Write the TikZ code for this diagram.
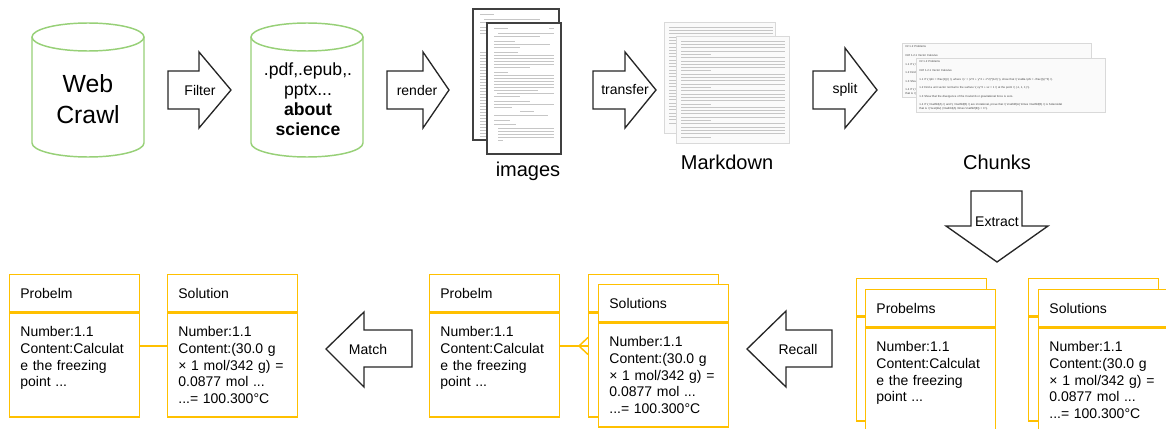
\documentclass[tikz,border=0pt]{standalone}
\usepackage{fontspec}
\setmainfont{Liberation Sans}
\usetikzlibrary{positioning, calc}
\usetikzlibrary{arrows.meta}
\definecolor{cylgreen}{RGB}{151,208,119}
\definecolor{cardyellow}{RGB}{255,192,0}
\newcommand{\mdbs}{\textbackslash{}}
\newcommand{\mdcaret}{\textasciicircum{}}
\tikzstyle{cylinderline}=[draw=cylgreen, line width=1.1pt, fill=white]
\tikzstyle{blockarrow}=[draw=black!85, line width=1pt, fill=white, line join=miter]
\tikzstyle{steplabel}=[font=\fontsize{10.5}{12}\selectfont, inner sep=1pt]
\tikzstyle{caption}=[font=\fontsize{15}{18}\selectfont]
\tikzstyle{pagebox}=[draw=black!75, line width=0.8pt, fill=white]
\tikzstyle{mdbox}=[draw=gray!30, line width=0.5pt, fill=gray!4]
\tikzstyle{pageline}=[draw=gray!45, line width=0.3pt]
\tikzstyle{cardhead}=[draw=cardyellow, line width=1.1pt, fill=white, anchor=north west, minimum width=97.5pt, minimum height=27.75pt, text width=81.5pt, inner xsep=8pt, inner ysep=0pt, align=left, font=\fontsize{10.5}{12.5}\selectfont]
\tikzstyle{cardbody}=[cardhead, minimum height=78pt]
\tikzstyle{cardlink}=[draw=cardyellow, line width=1.1pt]
\tikzstyle{chunkbox}=[draw=gray!30, fill=gray!4, anchor=north west, minimum width=141.75pt, minimum height=40.5pt, text width=137pt, inner sep=2pt, align=left, text=black!75, font=\fontsize{2.1}{2.6}\selectfont]
\tikzset{
    between/.style args={#1 and #2}{
        at = ($(#1)!0.5!(#2)$)
    }
}

\begin{document}
\begin{tikzpicture}[x=0.75pt, y=-0.75pt]
    \clip (0,0) rectangle (1166,428);

    % databases
    \draw[cylinderline] (32,37) -- (32,143) arc[start angle=180, end angle=360, x radius=42pt, y radius=10.5pt] -- (144,37);
    \draw[cylinderline] (88,37) ellipse[x radius=42pt, y radius=10.5pt];
    \node[font=\fontsize{18.6}{23}\selectfont, align=center] (web) at (88,99) {Web\\Crawl};

    \draw[cylinderline] (251,37) -- (251,143) arc[start angle=180, end angle=360, x radius=42pt, y radius=10.5pt] -- (363,37);
    \draw[cylinderline] (307,37) ellipse[x radius=42pt, y radius=10.5pt];
    \node[font=\fontsize{13.2}{15}\selectfont, align=center] (sci) at (308,99) {.pdf,.epub,.\\pptx...\\\textbf{about}\\\textbf{science}};

    % block arrows
    \draw[blockarrow] (168,71) -- (199,71) -- (199,52) -- (231,90) -- (199,128) -- (199,109) -- (168,109) -- cycle;
    \node[steplabel] (filter) at (200,90) {Filter};
    \draw[blockarrow] (387,71) -- (423,71) -- (423,52) -- (449,90) -- (423,128) -- (423,109) -- (387,109) -- cycle;
    \node[steplabel] (render) at (417,90) {render};
    \draw[blockarrow] (593,71) -- (625,71) -- (625,52) -- (656,90) -- (625,128) -- (625,109) -- (593,109) -- cycle;
    \node[steplabel] (transfer) at (625,90) {transfer};
    \draw[blockarrow] (813,71) -- (845,71) -- (845,48) -- (877,90) -- (845,128) -- (845,109) -- (813,109) -- cycle;
    \node[steplabel] (split) at (845,90) {split};
    \draw[blockarrow] (971,191) -- (1022,191) -- (1022,226) -- (1048,226) -- (997,262) -- (946,226) -- (971,226) -- cycle;
    \node[steplabel] (extract) at (997,222) {Extract};
    \draw[blockarrow] (832,330) -- (786,330) -- (786,311) -- (747,349) -- (786,387) -- (786,367) -- (832,367) -- cycle;
    \node[steplabel] (recall) at (798,349) {Recall};
    \draw[blockarrow] (412,330) -- (364,330) -- (364,312) -- (326,349) -- (364,387) -- (364,367) -- (412,367) -- cycle;
    \node[steplabel] (match) at (368,349) {Match};

    % rendered pages
    \draw[pagebox] (473,9) rectangle (559,140);
    \foreach \y/\a/\b in {28/494/508, 33/498/554, 36/494/540, 41/494/515, 44/494/550, 47/494/520}
        \draw[pageline] (\a-14,\y-14) -- (\b-14,\y-14);
    \foreach \y in {52,55,...,136}
        \draw[pageline] (480,\y) -- (486,\y);
    \draw[pagebox] (487,23) rectangle (561,154);
    \foreach \y/\a/\b in {28/494/508, 28/549/554, 33/498/554, 36/494/540, 41/494/515, 44/494/550, 47/494/520, 52/494/518, 55/494/554, 58/494/554, 61/494/554, 64/494/554, 67/494/530, 72/494/508, 75/494/554, 78/494/554, 81/494/554, 84/494/554, 87/494/554, 90/494/538, 93/497/554, 96/494/520, 101/494/530, 104/494/554, 107/494/512, 111/520/534, 115/494/548, 120/494/510, 124/494/516, 128/498/554, 131/498/554, 134/498/554, 137/498/554, 140/498/503}
        \draw[pageline] (\a,\y) -- (\b,\y);
    \node[caption] (imgcap) at (528,171) {images};

    % markdown pages
    \draw[mdbox] (664,22) rectangle (775,133);
    \foreach \i in {0,...,29} {
        \pgfmathsetmacro\ll{mod(\i,5)==4 ? 30 : 104}
        \draw[pageline] (669,27+3.3*\i) -- ++(\ll,0);
    }
    \draw[mdbox] (676,36) rectangle (789,143);
    \foreach \i in {0,...,29} {
        \pgfmathsetmacro\ll{mod(\i,5)==4 ? 30 : 104}
        \draw[pageline] (681,41+3.3*\i) -- ++(\ll,0);
    }
    \node[caption] (mdcap) at (727,162) {Markdown};

    % chunks
    \node[chunkbox] (chunkback) at (902,43) {\#\# 1.2 Problems\\[3.8pt]
        \#\#\# 1.2.1 Vector Calculus\\[3.8pt]
        1.1 If \mdbs( \mdbs phi = \mdbs frac\{1\}\{r\} \mdbs), where \mdbs( r = (x\mdcaret 2 + y\mdcaret 2 + z\mdcaret 2)\mdcaret\{1/2\} \mdbs), show that \mdbs( \mdbs nabla \mdbs phi = -\mdbs frac\{r\}\{r\mdcaret 3\} \mdbs).\\[3.8pt]
        1.2 Find a unit vector normal to the surface \mdbs( xy\mdcaret 2 + xz = 1 \mdbs) at the point \mdbs( (-1, 1, 1) \mdbs).\\[3.8pt]
        1.3 Show that the divergence of the Coulomb or gravitational force is zero.\\[3.8pt]
        1.4 If \mdbs( \mdbs mathbf\{A\} \mdbs) and \mdbs( \mdbs mathbf\{B\} \mdbs) are irrotational, prove that \mdbs( \mdbs mathbf\{A\} \mdbs times \mdbs mathbf\{B\} \mdbs) is Solenoidal\\
        that is \mdbs( \mdbs text\{div\} (\mdbs mathbf\{A\} \mdbs times \mdbs mathbf\{B\}) = 0 \mdbs).};
    \node[chunkbox] (chunkfront) at (916,58) {\#\# 1.2 Problems\\[3.8pt]
        \#\#\# 1.2.1 Vector Calculus\\[3.8pt]
        1.1 If \mdbs( \mdbs phi = \mdbs frac\{1\}\{r\} \mdbs), where \mdbs( r = (x\mdcaret 2 + y\mdcaret 2 + z\mdcaret 2)\mdcaret\{1/2\} \mdbs), show that \mdbs( \mdbs nabla \mdbs phi = -\mdbs frac\{r\}\{r\mdcaret 3\} \mdbs).\\[3.8pt]
        1.2 Find a unit vector normal to the surface \mdbs( xy\mdcaret 2 + xz = 1 \mdbs) at the point \mdbs( (-1, 1, 1) \mdbs).\\[3.8pt]
        1.3 Show that the divergence of the Coulomb or gravitational force is zero.\\[3.8pt]
        1.4 If \mdbs( \mdbs mathbf\{A\} \mdbs) and \mdbs( \mdbs mathbf\{B\} \mdbs) are irrotational, prove that \mdbs( \mdbs mathbf\{A\} \mdbs times \mdbs mathbf\{B\} \mdbs) is Solenoidal\\
        that is \mdbs( \mdbs text\{div\} (\mdbs mathbf\{A\} \mdbs times \mdbs mathbf\{B\}) = 0 \mdbs).};
    \node[caption] (chunkcap) at (997,162) {Chunks};

    % extracted problems and solutions
    \node[cardhead] (ebackhead) at (856,278) {};
    \node[cardbody] (ebackbody) at (ebackhead.south west) {};
    \node[cardhead] (ehead) at (865,289) {Probelms};
    \node[cardbody] (ebody) at (ehead.south west) {Number:1.1\\Content:Calculat\\e the freezing\\point ...\\ \mbox{}};

    \node[cardhead] (fbackhead) at (1028,278) {};
    \node[cardbody] (fbackbody) at (fbackhead.south west) {};
    \node[cardhead] (fhead) at (1038,289) {Solutions};
    \node[cardbody] (fbody) at (fhead.south west) {Number:1.1\\Content:(30.0 g\\× 1 mol/342 g) =\\0.0877 mol ...\\...= 100.300°C};

    % recalled pair
    \node[cardhead] (chead) at (429,274) {Probelm};
    \node[cardbody] (cbody) at (chead.south west) {Number:1.1\\Content:Calculat\\e the freezing\\point ...\\ \mbox{}};
    \node[cardhead] (dbackhead) at (588,274) {};
    \node[cardbody] (dbackbody) at (dbackhead.south west) {};
    \node[cardhead] (dhead) at (598,284) {Solutions};
    \node[cardbody] (dbody) at (dhead.south west) {Number:1.1\\Content:(30.0 g\\× 1 mol/342 g) =\\0.0877 mol ...\\...= 100.300°C};
    \coordinate[between=chead.north east and cbody.south east] (cout);
    \coordinate[between=dbackhead.north west and dbackbody.south west] (din);
    \draw[cardlink] (cout) -- (din);
    \draw[cardlink] (din) ++(0,-8.5) -- ++(-9,8.5) -- ++(9,8.5);

    % matched pair
    \node[cardhead] (ahead) at (9,274) {Probelm};
    \node[cardbody] (abody) at (ahead.south west) {Number:1.1\\Content:Calculat\\e the freezing\\point ...\\ \mbox{}};
    \node[cardhead] (bhead) at (167,274) {Solution};
    \node[cardbody] (bbody) at (bhead.south west) {Number:1.1\\Content:(30.0 g\\× 1 mol/342 g) =\\0.0877 mol ...\\...= 100.300°C};
    \coordinate[between=ahead.north east and abody.south east] (aout);
    \coordinate[between=bhead.north west and bbody.south west] (bin);
    \draw[cardlink] (aout) -- (bin);
\end{tikzpicture}
\end{document}
